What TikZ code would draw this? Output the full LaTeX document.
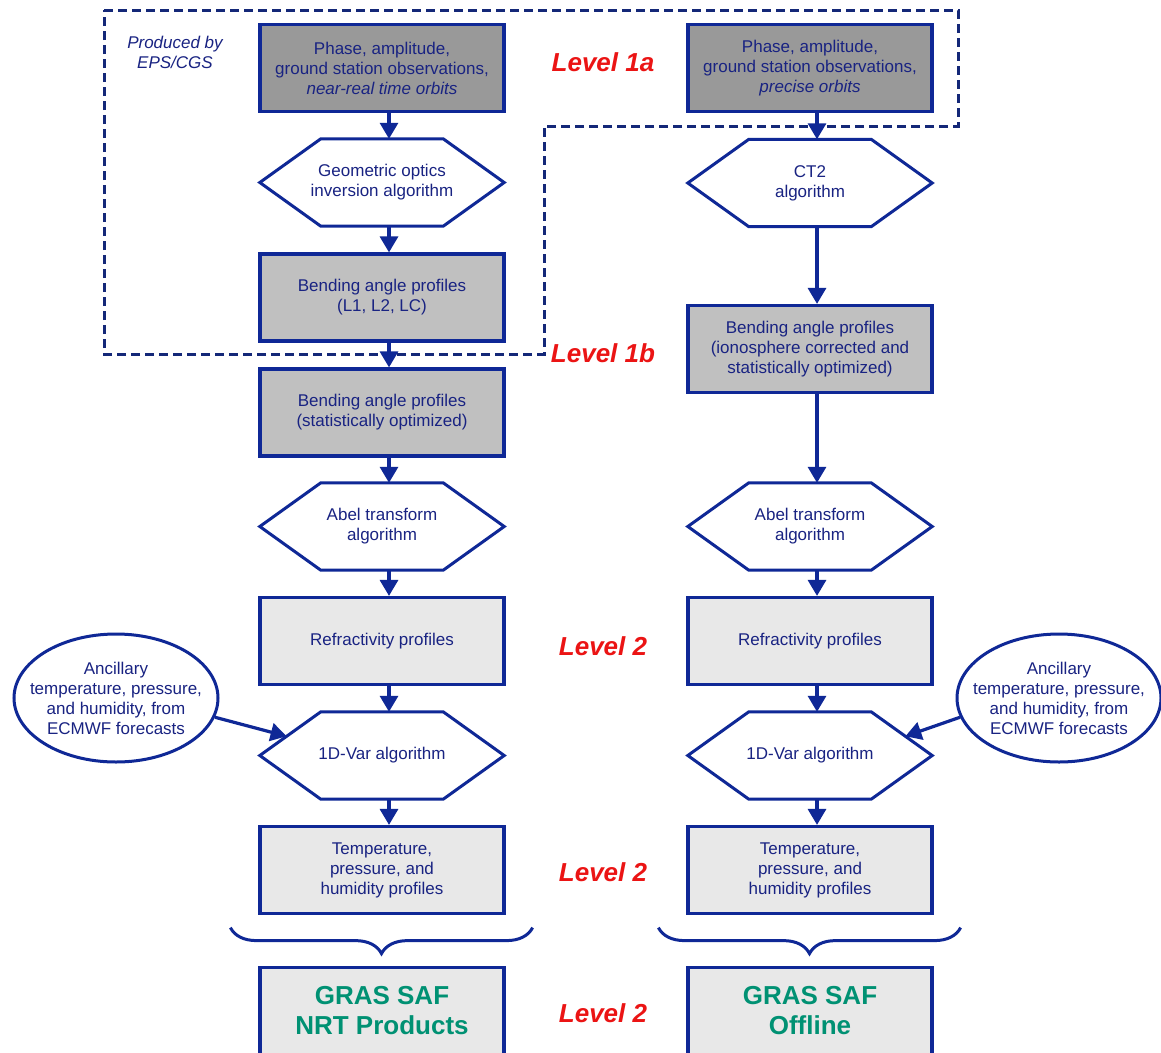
\documentclass[tikz,border=0pt]{standalone}
\usepackage{fontspec}
\setmainfont{Liberation Sans}
\usetikzlibrary{arrows.meta,shapes.geometric,calc,decorations.pathreplacing}

\definecolor{lineblue}{RGB}{15,40,150}
\definecolor{textblue}{RGB}{25,35,130}
\definecolor{dashblue}{RGB}{20,40,120}
\definecolor{darkfill}{RGB}{153,153,153}
\definecolor{midfill}{RGB}{192,192,192}
\definecolor{lightfill}{RGB}{232,232,232}
\definecolor{lvlred}{RGB}{235,20,20}
\definecolor{safgreen}{RGB}{0,145,115}

\newcommand\txt{\fontsize{17}{20}\selectfont}
\newcommand\lvl{\fontsize{26}{30}\selectfont\bfseries\itshape}
\newcommand\saf{\fontsize{26}{30}\selectfont\bfseries}
\newcommand\hexout[1]{\draw[hexline] (#1.west) -- ([xshift=61pt]#1.north west) -- ([xshift=-61pt]#1.north east) -- (#1.east) -- ([xshift=-61pt]#1.south east) -- ([xshift=61pt]#1.south west) -- cycle;}

\tikzset{
  box/.style={draw=lineblue, line width=3.2pt, minimum width=244pt, minimum height=87pt, inner sep=0pt, align=center, text=textblue, font=\txt},
  hexa/.style={minimum width=244pt, minimum height=87pt, inner sep=0pt, align=center, text=textblue, font=\txt},
  hexline/.style={draw=lineblue, line width=3pt, line join=miter},
  anc/.style={ellipse, draw=lineblue, line width=3pt, minimum width=204pt, minimum height=128pt, inner xsep=-15pt, inner ysep=7pt, align=center, text=textblue, font=\txt},
  lvlnode/.style={text=lvlred, font=\lvl},
  arr/.style={-{Triangle[length=16pt,width=18pt]}, draw=lineblue, line width=3.2pt},
  brc/.style={decorate, decoration={brace, mirror, amplitude=26pt}, draw=lineblue, line width=3pt},
  dashline/.style={draw=dashblue, line width=3pt, dash pattern=on 9pt off 5pt}
}

\begin{document}
\begin{tikzpicture}[x=1pt, y=-1pt]
\clip (0,0) rectangle (1161,1052);
\fill[white] (0,0) rectangle (1161,1052);

% region produced by EPS/CGS
\draw[dashline] (104,10) -- (958,10) -- (958,126) -- (544,126) -- (544,354) -- (104,354) -- cycle;
\node[text=textblue, font=\txt\itshape, align=center] (PB) at (175,52) {Produced by\\EPS/CGS};

% left chain (NRT)
\node[box, fill=darkfill] (P1) at (382,68) {Phase, amplitude,\\ground station observations,\\\textit{near-real time orbits}};
\node[hexa] (G1) at (382,182.5) {Geometric optics\\inversion algorithm};
\hexout{G1}
\node[box, fill=midfill] (B1) at (382,297.5) {Bending angle profiles\\(L1, L2, LC)};
\node[box, fill=midfill] (S1) at (382,412.5) {Bending angle profiles\\(statistically optimized)};
\node[hexa] (A1) at (382,526.5) {Abel transform\\algorithm};
\hexout{A1}
\node[box, fill=lightfill] (R1) at (382,641) {Refractivity profiles};
\node[hexa] (V1) at (382,755.5) {1D-Var algorithm};
\hexout{V1}
\node[box, fill=lightfill] (T1) at (382,870) {Temperature,\\pressure, and\\humidity profiles};
\node[box, fill=lightfill, text=safgreen, font=\saf] (F1) at (382,1011) {GRAS SAF\\NRT Products};

% right chain (offline)
\node[box, fill=darkfill] (P2) at (810,68) {Phase, amplitude,\\ground station observations,\\\textit{precise orbits}};
\node[hexa] (C2) at (810,183) {CT2\\algorithm};
\hexout{C2}
\node[box, fill=midfill] (B2) at (810,349) {Bending angle profiles\\(ionosphere corrected and\\statistically optimized)};
\node[hexa] (A2) at (810,526.5) {Abel transform\\algorithm};
\hexout{A2}
\node[box, fill=lightfill] (R2) at (810,641) {Refractivity profiles};
\node[hexa] (V2) at (810,755.5) {1D-Var algorithm};
\hexout{V2}
\node[box, fill=lightfill] (T2) at (810,870) {Temperature,\\pressure, and\\humidity profiles};
\node[box, fill=lightfill, text=safgreen, font=\saf] (F2) at (810,1011) {GRAS SAF\\Offline};

% ancillary data
\node[anc] (E1) at (116,698) {Ancillary\\temperature, pressure,\\and humidity, from\\ECMWF forecasts};
\node[anc] (E2) at (1059,698) {Ancillary\\temperature, pressure,\\and humidity, from\\ECMWF forecasts};

% levels
\node[lvlnode] (L1a) at (603,62) {Level 1a};
\node[lvlnode] (L1b) at (603,353) {Level 1b};
\node[lvlnode] (L2a) at (603,646) {Level 2};
\node[lvlnode] (L2b) at (603,872) {Level 2};
\node[lvlnode] (L2c) at (603,1013) {Level 2};

% arrows
\draw[arr] ([xshift=7pt]P1.south) -- ([xshift=7pt]G1.north);
\draw[arr] ([xshift=7pt]G1.south) -- ([xshift=7pt]B1.north);
\draw[arr] ([xshift=7pt]B1.south) -- ([xshift=7pt]S1.north);
\draw[arr] ([xshift=7pt]S1.south) -- ([xshift=7pt]A1.north);
\draw[arr] ([xshift=7pt]A1.south) -- ([xshift=7pt]R1.north);
\draw[arr] ([xshift=7pt]R1.south) -- ([xshift=7pt]V1.north);
\draw[arr] ([xshift=7pt]V1.south) -- ([xshift=7pt]T1.north);
\draw[arr] ([xshift=7pt]P2.south) -- ([xshift=7pt]C2.north);
\draw[arr] ([xshift=7pt]C2.south) -- ([xshift=7pt]B2.north);
\draw[arr] ([xshift=7pt]B2.south) -- ([xshift=7pt]A2.north);
\draw[arr] ([xshift=7pt]A2.south) -- ([xshift=7pt]R2.north);
\draw[arr] ([xshift=7pt]R2.south) -- ([xshift=7pt]V2.north);
\draw[arr] ([xshift=7pt]V2.south) -- ([xshift=7pt]T2.north);
\draw[arr] (E1.-11) -- ($(V1.west)!0.44!([xshift=61pt]V1.north west)$);
\draw[arr] (E2.191) -- ($(V2.east)!0.44!([xshift=-61pt]V2.north east)$);

% braces
\draw[brc] ([xshift=-28pt,yshift=-12.5pt]T1.south west) -- ([xshift=27pt,yshift=-12.5pt]T1.south east);
\draw[brc] ([xshift=-28pt,yshift=-12.5pt]T2.south west) -- ([xshift=27pt,yshift=-12.5pt]T2.south east);
\end{tikzpicture}
\end{document}
